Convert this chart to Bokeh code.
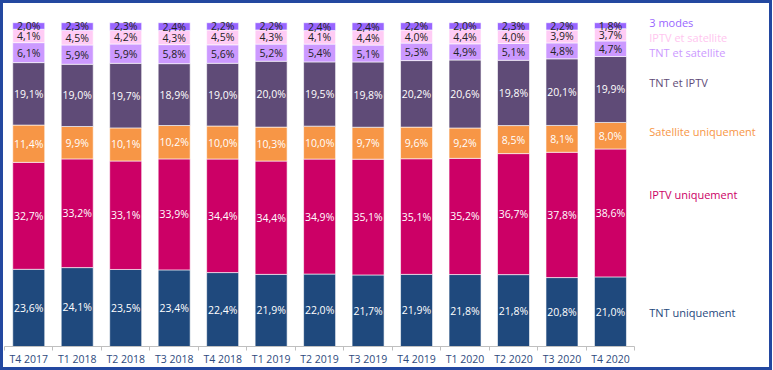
from bokeh.plotting import figure
from bokeh.models import ColumnDataSource, FixedTicker, LinearAxis, Range1d
from bokeh.core.properties import value
from bokeh.embed import file_html
from bokeh.resources import INLINE

categories = ["T4 2017", "T1 2018", "T2 2018", "T3 2018", "T4 2018", "T1 2019", "T2 2019",
              "T3 2019", "T4 2019", "T1 2020", "T2 2020", "T3 2020", "T4 2020"]

series_names = ["TNT uniquement", "IPTV uniquement", "Satellite uniquement", "TNT et IPTV",
                "TNT et satellite", "IPTV et satellite", "3 modes"]

tnt_uniquement = [23.6, 24.1, 23.5, 23.4, 22.4, 21.9, 22.0, 21.7, 21.9, 21.8, 21.8, 20.8, 21.0]
iptv_uniquement = [32.7, 33.2, 33.1, 33.9, 34.4, 34.4, 34.9, 35.1, 35.1, 35.2, 36.7, 37.8, 38.6]
satellite_uniquement = [11.4, 9.9, 10.1, 10.2, 10.0, 10.3, 10.0, 9.7, 9.6, 9.2, 8.5, 8.1, 8.0]
tnt_et_iptv = [19.1, 19.0, 19.7, 18.9, 19.0, 20.0, 19.5, 19.8, 20.2, 20.6, 19.8, 20.1, 19.9]
tnt_et_satellite = [6.1, 5.9, 5.9, 5.8, 5.6, 5.2, 5.4, 5.1, 5.3, 4.9, 5.1, 4.8, 4.7]
iptv_et_satellite = [4.1, 4.5, 4.2, 4.3, 4.5, 4.3, 4.1, 4.4, 4.0, 4.4, 4.0, 3.9, 3.7]
trois_modes = [2.0, 2.3, 2.3, 2.4, 2.2, 2.2, 2.4, 2.4, 2.2, 2.0, 2.3, 2.2, 1.8]

series_values = [tnt_uniquement, iptv_uniquement, satellite_uniquement, tnt_et_iptv,
                 tnt_et_satellite, iptv_et_satellite, trois_modes]

# styles
bar_colors = ["#1F497D", "#CC0066", "#F79646", "#5F4B77", "#CC99FF", "#FFCCF5", "#9966FF"]
value_text_colors = ["#FFFFFF", "#FFFFFF", "#FFFFFF", "#FFFFFF", "#222222", "#222222", "#222222"]
legend_text_colors = ["#1F497D", "#CC0066", "#F79646", "#5F4B77", "#CC99FF", "#FFC6EF", "#9966FF"]
legend_y = [10.6, 46.8, 66.4, 81.6, 90.7, 95.5, 100.0]   # label positions (layout)
legend_x = 12.8

FONT = "Open Sans"
W, H = 766, 364
LEFT, TOP, BOTTOM = 1, 8, 27
px_per_cat = 48.1
frame_h = H - TOP - BOTTOM
plot_h = 318.0  # pixels for 0..100 %
x_end = -0.5 + (W - LEFT) / px_per_cat
y_end = 100 + (frame_h - plot_h) * 100.0 / plot_h

p = figure(width=W, height=H, output_backend="svg", toolbar_location=None,
           x_range=Range1d(-0.5, x_end), y_range=Range1d(0, y_end),
           x_axis_type=None, y_axis_type=None,
           min_border_left=LEFT, min_border_right=0, min_border_top=TOP, min_border_bottom=BOTTOM)
p.outline_line_color = None
p.background_fill_color = "white"
p.border_fill_color = "white"
p.styles = {"border": "3px solid #2348A0", "box-sizing": "content-box"}

xs = list(range(len(categories)))
totals = [sum(s[i] for s in series_values) for i in xs]
bottoms = [0.0] * len(xs)
for k, vals in enumerate(series_values):
    norm = [vals[i] * 100.0 / totals[i] for i in xs]
    tops = [bottoms[i] + norm[i] for i in xs]
    mids = [(bottoms[i] + tops[i]) / 2 for i in xs]
    labels = [f"{v:.1f}".replace(".", ",") + "%" for v in vals]
    src = ColumnDataSource(dict(x=xs, bottom=bottoms, top=tops, mid=mids, label=labels))
    p.vbar(x="x", bottom="bottom", top="top", width=0.66, source=src,
           fill_color=bar_colors[k], line_color="#FFFFFF", line_width=0.6)
    p.text(x="x", y="mid", text="label", source=src, text_align="center",
           text_baseline="middle", text_font=value(FONT), text_font_size="10.5px",
           text_color=value_text_colors[k])
    bottoms = tops

lsrc = ColumnDataSource(dict(x=[legend_x] * len(series_names), y=legend_y,
                             t=series_names, c=legend_text_colors))
p.text(x="x", y="y", text="t", text_color="c", source=lsrc, text_align="left",
       text_baseline="middle", text_font=value(FONT), text_font_size="11px")

xaxis = LinearAxis(ticker=FixedTicker(ticks=xs, minor_ticks=[i - 0.5 for i in range(len(xs) + 1)]),
                   bounds=(-0.5, len(xs) - 0.5))
xaxis.major_label_overrides = {i: c for i, c in enumerate(categories)}
xaxis.axis_line_color = "#BFBFBF"
xaxis.major_tick_out = 0
xaxis.major_tick_in = 0
xaxis.minor_tick_out = 4
xaxis.minor_tick_in = 0
xaxis.minor_tick_line_color = "#BFBFBF"
xaxis.major_label_standoff = 1
xaxis.major_label_text_font = FONT
xaxis.major_label_text_font_size = "10.5px"
xaxis.major_label_text_color = "#2E4A7D"
p.add_layout(xaxis, "below")

open("out.html", "w").write(file_html(p, INLINE))
